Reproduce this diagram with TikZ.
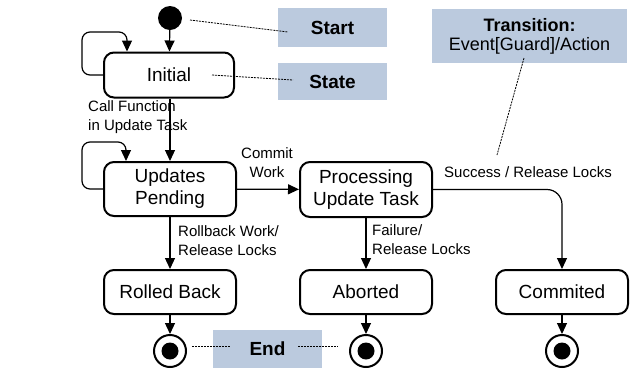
\documentclass[tikz,border=0pt]{standalone}
\usepackage{fontspec}
\setmainfont{Liberation Sans}
\usetikzlibrary{arrows.meta}
\definecolor{notefill}{RGB}{187,202,222}
\tikzset{
  state/.style={draw, line width=2pt, rounded corners=10pt, fill=white,
    minimum width=132pt, minimum height=44pt, align=center, inner sep=0pt,
    font=\fontsize{19}{22}\selectfont},
  note/.style={fill=notefill, inner sep=0pt, align=center,
    font=\fontsize{19}{22}\selectfont\bfseries},
  conn/.style={line width=1.2pt, -{Triangle[length=11pt,width=10pt]}},
  trlabel/.style={inner sep=0pt, align=left, font=\fontsize{15}{19}\selectfont},
  hint/.style={line width=0.8pt, dash pattern=on 2pt off 1pt},
  startdot/.style={circle, fill=black, minimum size=24pt, inner sep=0pt},
  enddot/.style={circle, draw, line width=2pt, fill=white, minimum size=32pt, inner sep=0pt,
    path picture={\fill[black] (path picture bounding box.center) circle (8.5pt);}}
}
\begin{document}
\begin{tikzpicture}[x=1pt, y=-1pt]
\useasboundingbox (0,0) rectangle (634,368);

% legend boxes
\node[note, minimum width=109pt, minimum height=39pt] (startnote) at (332.5,27.5) {Start};
\node[note, minimum width=109pt, minimum height=37pt] (statenote) at (332.5,81.5) {State};
\node[note, minimum width=195pt, minimum height=54pt, font=\fontsize{18}{19}\selectfont] (transnote) at (529.5,36)
  {\textbf{Transition:}\\\mdseries Event[Guard]/Action};
\node[note, minimum width=109pt, minimum height=38pt] (endnote) at (267.5,349) {End};

% states
\node[startdot] (start) at (170,18) {};
\node[state, minimum width=130pt, minimum height=45pt] (initial) at (169,75) {Initial};
\node[state, minimum height=54pt] (pending) at (170,189) {Updates\\Pending};
\node[state, minimum height=55pt] (processing) at (366,189.5) {Processing\\Update Task};
\node[state] (rolled) at (170,292) {Rolled Back};
\node[state] (aborted) at (366,292) {Aborted};
\node[state] (commited) at (562,292) {Commited};
\node[enddot] (end1) at (170,351) {};
\node[enddot] (end2) at (366,351) {};
\node[enddot] (end3) at (562,351) {};

% transitions
\draw[conn] (start) -- (initial);
\draw[conn, rounded corners=8pt] (initial.west) -| ++(-21,-43) -| ([xshift=-42pt]initial.north);
\draw[conn] (initial.south -| start) -- (pending.north);
\draw[conn, rounded corners=8pt] (pending.west) -| ++(-21,-47) -| ([xshift=-44pt]pending.north);
\draw[conn] (pending) -- (processing);
\draw[conn] (pending) -- (rolled);
\draw[conn] (processing) -- (aborted);
\draw[conn, rounded corners=15pt] (processing.east) -| (commited.north);
\draw[conn] (rolled) -- (end1);
\draw[conn] (aborted) -- (end2);
\draw[conn] (commited) -- (end3);

% transition labels
\node[trlabel, anchor=west] (lcall) at (88,117.5) {Call Function\\in Update Task};
\node[trlabel, align=center] (lcommit) at (267,163) {Commit\\Work};
\node[trlabel, anchor=west] (lrollback) at (178,241) {Rollback Work/\\Release Locks};
\node[trlabel, anchor=west] (lfailure) at (372,240) {Failure/\\Release Locks};
\node[trlabel] (lsuccess) at (528,172) {Success / Release Locks};

% annotation leaders
\coordinate (a1) at (190,20);  \coordinate (b1) at (288,32);
\coordinate (a2) at (212,75);  \coordinate (b2) at (293,80);
\coordinate (a3) at (524,58);  \coordinate (b3) at (497,155);
\coordinate (a4) at (192,346); \coordinate (b4) at (230,346);
\coordinate (a5) at (298,346); \coordinate (b5) at (338,346);
\draw[hint] (a1) -- (b1);
\draw[hint] (a2) -- (b2);
\draw[hint] (a3) -- (b3);
\draw[hint] (a4) -- (b4);
\draw[hint] (a5) -- (b5);
\end{tikzpicture}
\end{document}
